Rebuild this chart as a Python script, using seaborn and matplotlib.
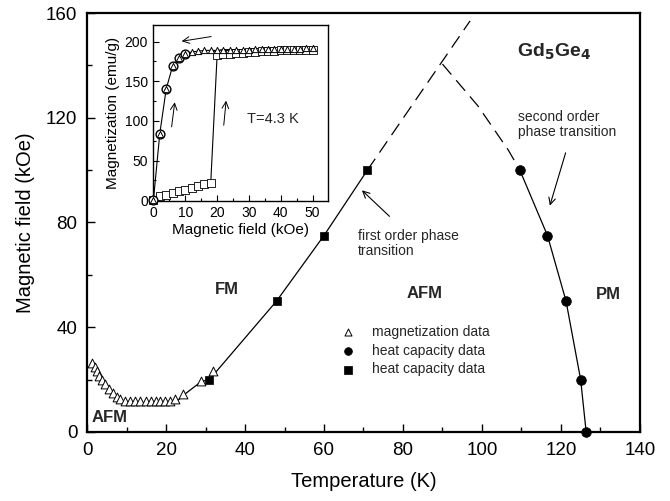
import matplotlib
matplotlib.use("Agg")
import matplotlib.pyplot as plt
from matplotlib.ticker import MultipleLocator
import seaborn as sns
import pandas as pd

sns.set_theme(style="ticks")
plt.rcParams['font.family'] = ['Liberation Sans', 'DejaVu Sans']

# ---------------- main phase diagram data ----------------
mag_T = [1.35, 1.9, 2.4, 3.1, 3.8, 4.6, 5.6, 6.6, 7.6, 8.4, 9.6, 10.9, 12.1, 13.4,
         14.9, 16.1, 17.4, 18.5, 19.7, 20.9, 22.3, 24.4, 28.9, 31.8]
mag_H = [26.2, 24.7, 23.2, 21.5, 19.8, 18.3, 16.5, 15.0, 13.5, 12.6, 11.8, 11.8, 11.8, 11.8,
         11.8, 11.8, 11.8, 11.8, 11.8, 11.8, 12.5, 14.4, 19.6, 23.4]
hc_circ_T = [109.6, 116.6, 121.3, 125.0, 126.4]
hc_circ_H = [100, 75, 50, 20, 0]
hc_sq_T = [31, 48, 60, 71]
hc_sq_H = [20, 50, 75, 100]

# first-order boundary (solid part) and its dashed extension
fo_T = [9.6, 22.3, 24.4, 28.9, 31, 48, 60, 71]
fo_H = [11.0, 11.0, 14.0, 19.2, 20, 50, 75, 100]
fo_dash_T = [71, 97.0]
fo_dash_H = [100, 157]
# second-order boundary dashed extension
so_dash_T = [90.0, 99.0, 106.7, 109.6]
so_dash_H = [140.5, 124.5, 107.6, 100]

# ---------------- inset data ----------------
ins_B = list(range(0, 52, 2))
ins_virgin = [0, 5, 7, 9, 11, 13, 15, 18, 20, 22, 183, 184, 185, 186, 186, 187,
              187, 188, 188, 188, 189, 189, 189, 189, 190, 190]
ins_upper = [0, 84, 140, 169, 179, 184, 187, 188, 189, 189, 189, 190, 190, 190, 190,
             190, 191, 191, 191, 191, 191, 191, 191, 191, 192, 192]
ins_circ_B = [0, 2, 4, 6, 8, 10]
ins_circ_M = [0, 84, 140, 169, 179, 184]

fig = plt.figure(figsize=(6.70, 5.01), dpi=100)
ax = fig.add_axes([0.130, 0.138, 0.825, 0.836])

# lines
sns.lineplot(x=fo_T, y=fo_H, ax=ax, color='black', lw=0.9, sort=False, estimator=None)
sns.lineplot(x=hc_circ_T, y=hc_circ_H, ax=ax, color='black', lw=0.9, sort=False, estimator=None)
ax.plot(fo_dash_T, fo_dash_H, color='black', lw=0.9, dashes=(11, 6))
ax.plot(so_dash_T, so_dash_H, color='black', lw=0.9, dashes=(11, 6))

# markers
sns.scatterplot(x=mag_T, y=mag_H, ax=ax, marker='^', s=40, facecolor='white',
                edgecolor='black', linewidth=0.7, label='magnetization data', zorder=3)
sns.scatterplot(x=hc_circ_T, y=hc_circ_H, ax=ax, marker='o', s=48, color='black',
                edgecolor='black', label='heat capacity data', zorder=3, clip_on=False)
sns.scatterplot(x=hc_sq_T, y=hc_sq_H, ax=ax, marker='s', s=40, color='black',
                edgecolor='black', label='heat capacity data', zorder=3)

ax.set_xlim(0, 140)
ax.set_ylim(0, 160)
ax.xaxis.set_major_locator(MultipleLocator(20))
ax.xaxis.set_minor_locator(MultipleLocator(10))
ax.yaxis.set_major_locator(MultipleLocator(40))
ax.yaxis.set_minor_locator(MultipleLocator(20))
ax.tick_params(which='both', direction='in', color='black', width=1.0)
ax.tick_params(which='major', length=6, labelsize=13.5, pad=7, labelcolor='black')
ax.tick_params(which='minor', length=3.5)
for sp in ax.spines.values():
    sp.set_visible(True)
    sp.set_linewidth(1.6)
    sp.set_color('black')
ax.set_xlabel('Temperature (K)', fontsize=14.5, labelpad=10, color='black')
ax.set_ylabel('Magnetic field (kOe)', fontsize=14.5, labelpad=8, color='black')

leg = ax.legend(loc='upper left', bbox_to_anchor=(0.447, 0.256), frameon=False,
                fontsize=10, handletextpad=0.7, labelspacing=0.35, borderpad=0,
                borderaxespad=0, markerscale=0.8)

# annotations
ax.text(108.8, 145, r'Gd$_\mathbf{5}$Ge$_\mathbf{4}$', fontsize=14, fontweight='bold',
        ha='left', va='center')
ax.text(109.2, 117.5, 'second order\nphase transition', fontsize=10, ha='left',
        va='center', linespacing=1.1)
ax.annotate('', xy=(117.0, 85.4), xytext=(121.4, 107.6),
            arrowprops=dict(arrowstyle='->', color='black', lw=0.8))
ax.text(68.7, 72, 'first order phase\ntransition', fontsize=10, ha='left',
        va='center', linespacing=1.1)
ax.annotate('', xy=(69.1, 93.0), xytext=(77.1, 81.6),
            arrowprops=dict(arrowstyle='->', color='black', lw=0.8))
ax.text(85.6, 53, 'AFM', fontsize=12, fontweight='bold', ha='center', va='center')
ax.text(132, 52.3, 'PM', fontsize=12, fontweight='bold', ha='center', va='center')
ax.text(35.4, 54.2, 'FM', fontsize=12, fontweight='bold', ha='center', va='center')
ax.text(1.2, 5.6, 'AFM', fontsize=12, fontweight='bold', ha='left', va='center')

# ---------------- inset ----------------
ia = fig.add_axes([0.229, 0.599, 0.260, 0.351])
sns.lineplot(x=ins_B, y=ins_virgin, ax=ia, color='black', lw=0.8, sort=False, estimator=None)
sns.lineplot(x=ins_B, y=ins_upper, ax=ia, color='black', lw=0.8, sort=False, estimator=None)
sns.scatterplot(x=ins_B, y=ins_virgin, ax=ia, marker='s', s=30, facecolor='white',
                edgecolor='black', linewidth=0.6, zorder=3, clip_on=False)
sns.scatterplot(x=ins_circ_B, y=ins_circ_M, ax=ia, marker='o', s=40, facecolor='white',
                edgecolor='black', linewidth=1.0, zorder=3, clip_on=False)
sns.scatterplot(x=ins_B, y=ins_upper, ax=ia, marker='^', s=20, facecolor='white',
                edgecolor='black', linewidth=0.7, zorder=4, clip_on=False)
ia.set_xlim(0, 54.7)
ia.set_ylim(-1, 221)
ia.xaxis.set_major_locator(MultipleLocator(10))
ia.xaxis.set_minor_locator(MultipleLocator(5))
ia.yaxis.set_major_locator(MultipleLocator(50))
ia.yaxis.set_minor_locator(MultipleLocator(25))
ia.tick_params(which='both', direction='in', color='black', width=0.8)
ia.tick_params(which='major', length=4, labelsize=10, pad=4, labelcolor='black')
ia.tick_params(which='minor', length=2.5)
for sp in ia.spines.values():
    sp.set_visible(True)
    sp.set_linewidth(1.0)
    sp.set_color('black')
ia.set_xlabel('Magnetic field (kOe)', fontsize=11, labelpad=2, color='black')
ia.set_ylabel('Magnetization (emu/g)', fontsize=11, labelpad=3, color='black')
ia.text(29.4, 103, 'T=4.3 K', fontsize=10.5, ha='left', va='center')
ia.annotate('', xy=(8, 200), xytext=(19, 207),
            arrowprops=dict(arrowstyle='->', color='black', lw=0.7))
ia.annotate('', xy=(6.8, 127), xytext=(5.6, 89),
            arrowprops=dict(arrowstyle='->', color='black', lw=0.7))
ia.annotate('', xy=(22.9, 129), xytext=(22.0, 91),
            arrowprops=dict(arrowstyle='->', color='black', lw=0.7))

fig.savefig('out.png', dpi=100)
